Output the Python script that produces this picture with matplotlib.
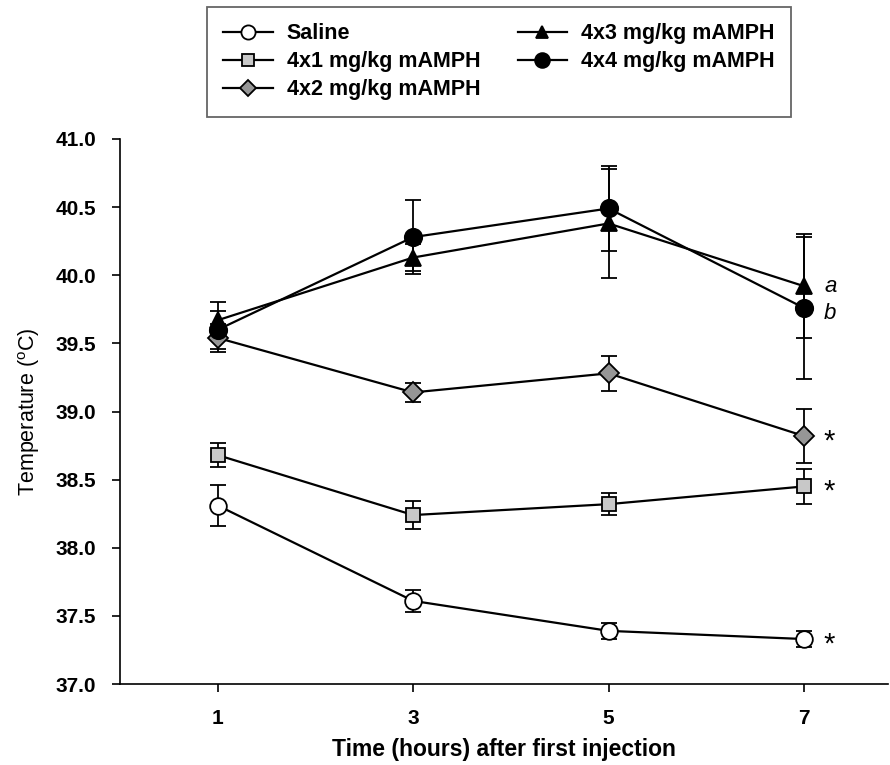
import numpy as np
import matplotlib
matplotlib.use('Agg')
import matplotlib.pyplot as plt

plt.rcParams['font.family'] = ['Liberation Sans', 'DejaVu Sans']
plt.rcParams['mathtext.fontset'] = 'custom'
plt.rcParams['mathtext.rm'] = 'Liberation Sans'
plt.rcParams['mathtext.it'] = 'Liberation Sans:italic'
plt.rcParams['mathtext.bf'] = 'Liberation Sans:bold'

# time points (hours after first injection)
hours = [1, 3, 5, 7]

labels = ['Saline', '4x1 mg/kg mAMPH', '4x2 mg/kg mAMPH',
          '4x3 mg/kg mAMPH', '4x4 mg/kg mAMPH']

saline_mean = [38.31, 37.61, 37.39, 37.33]
saline_sem = [0.15, 0.08, 0.06, 0.06]

mg1_mean = [38.68, 38.24, 38.32, 38.45]
mg1_sem = [0.09, 0.10, 0.08, 0.13]

mg2_mean = [39.54, 39.14, 39.28, 38.82]
mg2_sem = [0.10, 0.07, 0.13, 0.20]

mg3_mean = [39.67, 40.13, 40.38, 39.92]
mg3_sem = [0.13, 0.10, 0.40, 0.38]

mg4_mean = [39.60, 40.28, 40.49, 39.76]
mg4_sem = [0.14, 0.27, 0.31, 0.52]

means = [saline_mean, mg1_mean, mg2_mean, mg3_mean, mg4_mean]
sems = [saline_sem, mg1_sem, mg2_sem, mg3_sem, mg4_sem]

markers = ['o', 's', 'D', '^', 'o']
fills = ['white', '#c8c8c8', '#969696', 'black', 'black']
msizes = [12, 10.5, 10, 11, 12.5]

# significance marks at the last time point
sig_labels = ['*', '*', '*', 'a', 'b']
sig_shift = [-0.1, -0.1, -0.1, 0.0, -0.04]

fig = plt.figure(figsize=(8.9, 7.65), dpi=100)
ax = fig.add_axes([120 / 890, 1 - 684 / 765, 768 / 890, 545 / 765])

handles = []
for m, s, mk, fc, ms in zip(means, sems, markers, fills, msizes):
    h = ax.errorbar(hours, m, yerr=s, color='black', linewidth=1.6,
                    marker=mk, markersize=ms, markerfacecolor=fc,
                    markeredgecolor='black', markeredgewidth=1.3,
                    ecolor='black', elinewidth=1.3, capsize=6, capthick=1.3,
                    clip_on=False)
    handles.append(h[0])

# annotations next to the 7 h points
for m, lab, dy in zip(means, sig_labels, sig_shift):
    if lab == '*':
        ax.text(7.26, m[-1] + dy, lab, fontsize=21, ha='center', va='baseline')
    else:
        ax.text(7.27, m[-1] + dy, lab, fontsize=16, style='italic', ha='center', va='center')

ax.set_xlim(0, 7.86)
ax.set_ylim(37, 41)
ax.set_xticks(hours)
ax.set_yticks(np.arange(37.0, 41.01, 0.5))
ax.set_yticklabels([f'{v:.1f}' for v in np.arange(37.0, 41.01, 0.5)])

ax.spines['top'].set_visible(False)
ax.spines['right'].set_visible(False)
for sp in ['left', 'bottom']:
    ax.spines[sp].set_linewidth(1.2)
ax.tick_params(direction='out', length=6, width=1.2, labelsize=15)
ax.tick_params(axis='y', pad=11)
ax.tick_params(axis='x', pad=12)
for t in ax.get_xticklabels() + ax.get_yticklabels():
    t.set_fontweight('bold')

ax.set_xlabel('Time (hours) after first injection', fontsize=16.5, fontweight='bold', labelpad=7)
ax.set_ylabel(r'Temperature ($^{\mathrm{o}}$C)', fontsize=15.5, labelpad=10)

leg = fig.legend(handles, labels, ncol=2, loc='upper left', mode='expand',
                 bbox_to_anchor=(207 / 890, 1 - 117 / 765, 584 / 890, 110 / 765),
                 borderaxespad=0, prop={'weight': 'bold', 'size': 15.5},
                 handlelength=2.3, handletextpad=0.65, labelspacing=0.33,
                 borderpad=0.75, fancybox=False, markerscale=0.85)
leg.get_frame().set_edgecolor('#404040')
leg.get_frame().set_linewidth(1.3)

fig.savefig('out.png', dpi=100)
